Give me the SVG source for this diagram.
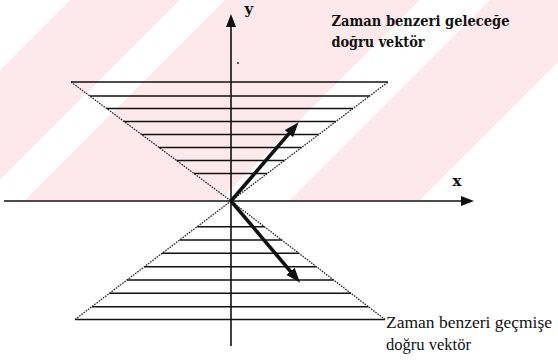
<svg xmlns="http://www.w3.org/2000/svg" width="558" height="360" viewBox="0 0 558 360">
  <style>
    .wm-pink { fill: #fde8ec; }
    .wm-white { fill: #ffffff; }
    .edge { stroke: #2a2a2a; stroke-width: 1.3; stroke-dasharray: 1.6 1.1; fill: none; }
    .hatch { stroke: #111; stroke-width: 1.6; fill: none; }
    .axis { stroke: #111; stroke-width: 1.6; fill: none; }
    .vec { stroke: #111; stroke-width: 3.6; fill: none; }
    text { fill: #111; font-family: "DejaVu Serif", "Liberation Serif", serif; }
    .ls { font-family: "Liberation Serif", "DejaVu Serif", serif; }
  </style>
  <defs>
    <marker id="axhead" markerUnits="userSpaceOnUse" markerWidth="14" markerHeight="11" refX="0" refY="5" orient="auto">
      <path d="M0,0 L13,5 L0,10 Z" fill="#111"/>
    </marker>
    <marker id="vhead" markerUnits="userSpaceOnUse" markerWidth="16" markerHeight="12" refX="6" refY="5.5" orient="auto">
      <path d="M0,0 L15,5.5 L0,11 Z" fill="#111"/>
    </marker>
  </defs>
  <rect width="558" height="360" fill="#ffffff"/>
  <g id="watermark">
    <rect class="wm-pink" x="0" y="0" width="558" height="200"/>
    <polygon class="wm-white" points="0,0 70,0 0,70"/>
    <polygon class="wm-white" points="0,180 180,0 225,0 25,200 0,200"/>
    <polygon class="wm-white" points="420,0 490,0 290,200 220,200"/>
    <polygon class="wm-white" points="420,200 558,62 558,200"/>
  </g>
  <g id="future-cone">
    <polyline class="edge" points="71,82 231,201 388,82"/>
    <line class="hatch" x1="71" y1="82" x2="388" y2="82"/>
    <line class="hatch" x1="89.8" y1="96" x2="369.5" y2="96"/>
    <line class="hatch" x1="106.6" y1="108.5" x2="353" y2="108.5"/>
    <line class="hatch" x1="124" y1="121.5" x2="335.9" y2="121.5"/>
    <line class="hatch" x1="141.6" y1="134.5" x2="318.7" y2="134.5"/>
    <line class="hatch" x1="159" y1="147.5" x2="301.6" y2="147.5"/>
    <line class="hatch" x1="176.5" y1="160.5" x2="284.4" y2="160.5"/>
    <line class="hatch" x1="194" y1="173.5" x2="267.3" y2="173.5"/>
  </g>
  <g id="past-cone">
    <polyline class="edge" points="75,319.5 231,201 385,319.5"/>
    <line class="hatch" x1="197.2" y1="226.7" x2="264.4" y2="226.7"/>
    <line class="hatch" x1="179.7" y1="240" x2="281.7" y2="240"/>
    <line class="hatch" x1="162.2" y1="253.3" x2="299" y2="253.3"/>
    <line class="hatch" x1="144.5" y1="266.7" x2="316.4" y2="266.7"/>
    <line class="hatch" x1="127" y1="280" x2="333.7" y2="280"/>
    <line class="hatch" x1="109.5" y1="293.3" x2="351" y2="293.3"/>
    <line class="hatch" x1="91.9" y1="306.7" x2="368.4" y2="306.7"/>
    <line class="hatch" x1="75" y1="319.5" x2="385" y2="319.5"/>
  </g>
  <g id="axes">
    <line class="axis" x1="231" y1="346" x2="231" y2="27" marker-end="url(#axhead)"/>
    <line class="axis" x1="4" y1="201" x2="461" y2="201" marker-end="url(#axhead)"/>
    <circle cx="238" cy="63" r="0.9" fill="#111"/>
    <text x="244.5" y="14" font-weight="bold" font-size="15">y</text>
    <text x="452.5" y="186" font-weight="bold" font-size="15">x</text>
  </g>
  <g id="connectors">
    <line class="vec" x1="231" y1="201" x2="292.8" y2="129.1" marker-end="url(#vhead)"/>
    <line class="vec" x1="231" y1="201" x2="294.3" y2="275.9" marker-end="url(#vhead)"/>
  </g>
  <g id="label-future" font-weight="bold">
    <text x="331.5" y="26" font-size="15" textLength="178" lengthAdjust="spacingAndGlyphs">Zaman benzeri geleceğe</text>
    <text x="331.5" y="46.5" font-size="15" textLength="93" lengthAdjust="spacingAndGlyphs">doğru vektör</text>
  </g>
  <g id="label-past">
    <text class="ls" x="386" y="327.5" font-size="16.5" textLength="166" lengthAdjust="spacingAndGlyphs">Zaman benzeri geçmişe</text>
    <text class="ls" x="386" y="350" font-size="16.5" textLength="85" lengthAdjust="spacingAndGlyphs">doğru vektör</text>
  </g>
</svg>
